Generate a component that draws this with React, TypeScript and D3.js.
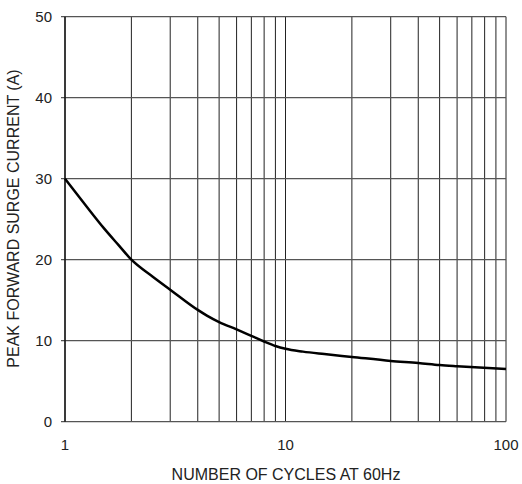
import React, { useEffect, useRef } from 'react';
import * as d3 from 'd3';

// surge curve
const cycles = [1, 1.25, 1.5, 1.75, 2, 2.5, 3, 4, 4.4, 5, 6, 7, 8, 9, 10, 12, 15, 20, 30, 40, 50, 60, 100];
const current = [30, 26.6, 23.9, 21.8, 20, 17.9, 16.3, 13.8, 13.1, 12.3, 11.4, 10.6, 9.9, 9.35, 9.0, 8.65, 8.35, 8.0, 7.5, 7.25, 7.0, 6.85, 6.5];

const yTicks = [0, 10, 20, 30, 40, 50];
const xTickLabels = [1, 10, 100];
const xGrid = [1, 2, 3, 4, 5, 6, 7, 8, 9, 10, 20, 30, 40, 50, 60, 70, 80, 90, 100];

const App: React.FC = () => {
  const svgRef = useRef<SVGSVGElement>(null);

  useEffect(() => {
    if (!svgRef.current) return;
    const svg = d3.select(svgRef.current);
    svg.selectAll('*').remove();

    const left = 65, right = 506, top = 16.7, bottom = 421.7;
    const font = 'Liberation Sans, Arial, sans-serif';

    const x = d3.scaleLog().domain([1, 100]).range([left, right]);
    const y = d3.scaleLinear().domain([0, 50]).range([bottom, top]);

    svg.append('rect').attr('width', 522).attr('height', 484).attr('fill', '#fff');

    // vertical grid
    svg.append('g').selectAll('line').data(xGrid).join('line')
      .attr('x1', d => x(d)).attr('x2', d => x(d))
      .attr('y1', top).attr('y2', bottom)
      .attr('stroke', '#222').attr('stroke-width', 1);

    // horizontal grid + small ticks on the left
    svg.append('g').selectAll('line').data(yTicks).join('line')
      .attr('x1', left - 4).attr('x2', right)
      .attr('y1', d => y(d)).attr('y2', d => y(d))
      .attr('stroke', '#555').attr('stroke-width', 1.2);

    // y-axis line
    svg.append('line')
      .attr('x1', left).attr('x2', left).attr('y1', top).attr('y2', bottom)
      .attr('stroke', '#000').attr('stroke-width', 1.2);

    svg.append('g').selectAll('text').data(yTicks).join('text')
      .attr('x', left - 13).attr('y', d => y(d)).attr('dy', '0.35em')
      .attr('text-anchor', 'end')
      .attr('font-family', font).attr('font-size', 15).attr('fill', '#222')
      .text(d => d);

    svg.append('g').selectAll('text').data(xTickLabels).join('text')
      .attr('x', d => x(d)).attr('y', 450)
      .attr('text-anchor', 'middle')
      .attr('font-family', font).attr('font-size', 15).attr('fill', '#222')
      .text(d => d);

    const line = d3.line<number>()
      .x(d => x(d))
      .y((_, i) => y(current[i]))
      .curve(d3.curveMonotoneX);

    svg.append('path')
      .attr('d', line(cycles))
      .attr('fill', 'none')
      .attr('stroke', '#000')
      .attr('stroke-width', 2.5);

    svg.append('text')
      .attr('x', 286).attr('y', 480)
      .attr('text-anchor', 'middle')
      .attr('font-family', font).attr('font-size', 16).attr('fill', '#222')
      .text('NUMBER OF CYCLES AT 60Hz');

    svg.append('text')
      .attr('transform', `translate(18.5,218.5) rotate(-90)`)
      .attr('text-anchor', 'middle')
      .attr('font-family', font).attr('font-size', 16).attr('fill', '#222')
      .text('PEAK FORWARD SURGE CURRENT (A)');
  }, []);

  return (
    <svg
      ref={svgRef}
      width={522}
      height={484}
      style={{ position: 'absolute', left: 0, top: 0 }}
    />
  );
};

export default App;
